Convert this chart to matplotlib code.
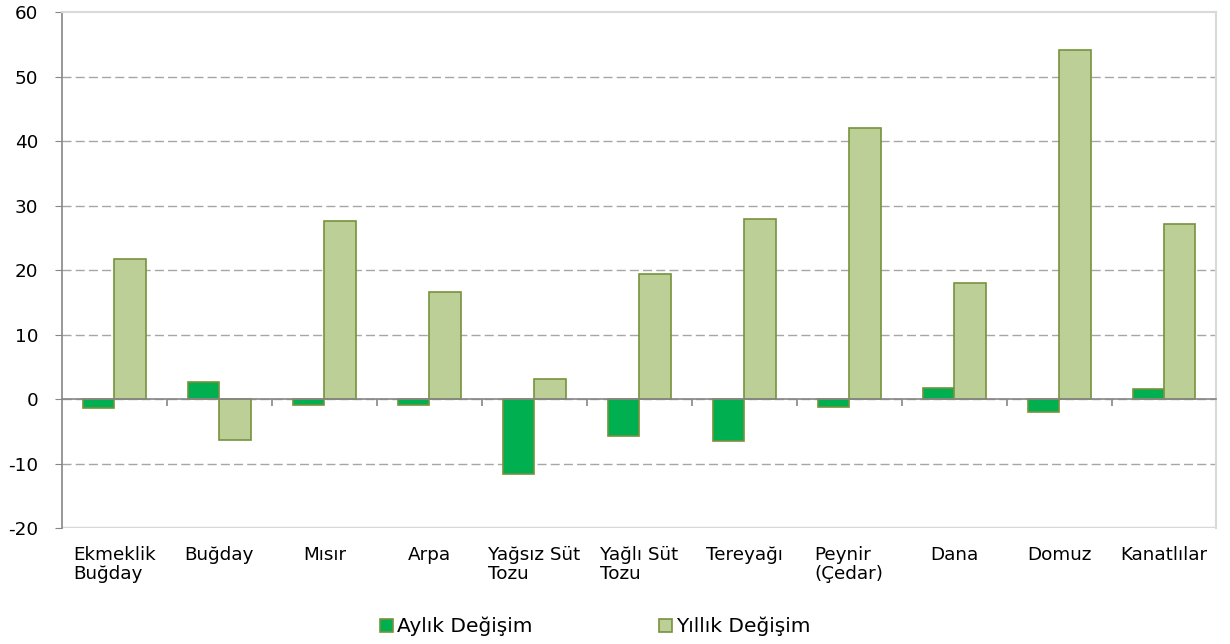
import numpy as np
import matplotlib.pyplot as plt

categories = ['Ekmeklik\nBuğday', 'Buğday', 'Mısır', 'Arpa', 'Yağsız Süt\nTozu',
              'Yağlı Süt\nTozu', 'Tereyağı', 'Peynir\n(Çedar)', 'Dana', 'Domuz', 'Kanatlılar']
aylik = [-1.4, 2.6, -0.9, -0.9, -11.6, -5.7, -6.5, -1.2, 1.7, -2.0, 1.5]
yillik = [21.7, -6.4, 27.6, 16.6, 3.1, 19.4, 28.0, 42.0, 18.0, 54.2, 27.1]
yticks = [-20, -10, 0, 10, 20, 30, 40, 50, 60]

plt.rcParams['font.family'] = ['DejaVu Sans']
plt.rcParams['axes.unicode_minus'] = False

fig = plt.figure(figsize=(12.3, 6.44), dpi=100)
ax = fig.add_axes([0.0504, 0.180, 0.9386, 0.801])

x = np.arange(len(categories))
w = 0.3
ax.bar(x - w/2, aylik, w, color='#00B050', edgecolor='#76923C', linewidth=1.2,
       label='Aylık Değişim', zorder=3)
ax.bar(x + w/2, yillik, w, color='#BBCF96', edgecolor='#76923C', linewidth=1.2,
       label='Yıllık Değişim', zorder=3)

ax.set_xlim(-0.5, len(categories) - 0.5)
ax.set_ylim(yticks[0], yticks[-1])
ax.set_yticks(yticks)
ax.tick_params(axis='y', labelsize=13.2, length=5, color='#868686', pad=12)

ax.grid(axis='y', color='#A6A6A6', linestyle=(0, (6.5, 3)), linewidth=1.0, zorder=1)
gl = ax.get_ygridlines()
gl[0].set_visible(False)
gl[-1].set_visible(False)

# zero line with ticks between categories
ax.spines['bottom'].set_position(('data', 0))
ax.spines['bottom'].set_color('#868686')
ax.spines['bottom'].set_linewidth(1.2)
ax.spines['bottom'].set_zorder(4)
ax.set_xticks(np.arange(len(categories)) + 0.5)
ax.set_xticklabels([])
ax.tick_params(axis='x', length=5, color='#868686', width=1.2, direction='out')

ax.spines['left'].set_color('#868686')
ax.spines['left'].set_linewidth(1.2)
ax.spines['top'].set_color('#D9D9D9')
ax.spines['right'].set_color('#D9D9D9')
ax.spines['top'].set_linewidth(1.5)
ax.spines['right'].set_linewidth(1.5)
ax.axhline(ax.get_ylim()[0], color='#D9D9D9', linewidth=2.5, zorder=2)

for i, lab in enumerate(categories):
    ax.text(i, -0.035, lab, transform=ax.get_xaxis_transform(), ha='center', va='top',
            multialignment='left', fontsize=13.2, linespacing=1.05)

fig.legend(loc='center', bbox_to_anchor=(0.484, 0.027), ncol=2, frameon=False,
           fontsize=14.5, handlelength=0.65, handleheight=0.65, handletextpad=0.2,
           columnspacing=6.3, borderpad=0)

fig.savefig('out.png', dpi=100)
